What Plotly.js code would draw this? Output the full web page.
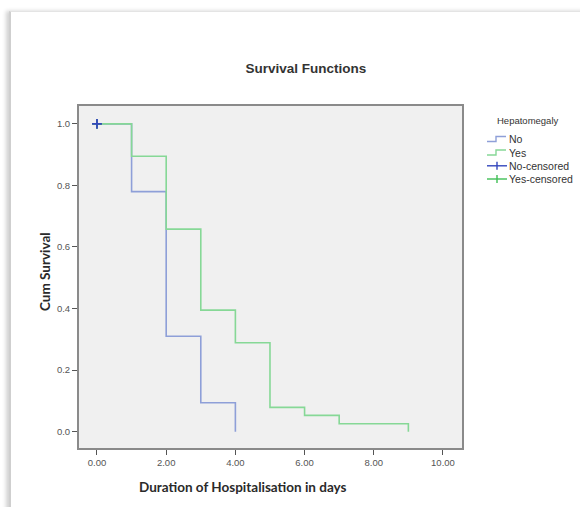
<!DOCTYPE html>
<html>
<head>
<meta charset="utf-8">
<script src="https://cdn.plot.ly/plotly-3.0.1.min.js"></script>
<style>
html,body{margin:0;padding:0;background:#fff;}
#wrap{position:relative;width:580px;height:507px;overflow:hidden;}
#frame{position:absolute;left:9px;top:11px;width:600px;height:520px;border-left:2px solid #cfcfcf;border-top:1px solid #e4e4e4;box-shadow:-3px 0 4px rgba(0,0,0,0.18);}
#chart{position:absolute;left:0;top:0;width:580px;height:507px;}
</style>
</head>
<body>
<div id="wrap"><div id="frame"></div><div id="chart"></div></div>
<script>
// Data
var noTimes = [0, 1, 2, 3, 4];
var noSurv = [1.0, 0.78, 0.31, 0.094, 0.0];
var yesTimes = [0, 1, 2, 3, 4, 5, 6, 7, 9];
var yesSurv = [1.0, 0.895, 0.658, 0.395, 0.289, 0.079, 0.053, 0.026, 0.0];
var noCensTimes = [0];
var noCensSurv = [1.0];
var yesCensTimes = [0];
var yesCensSurv = [1.0];
var xTicks = [0, 2, 4, 6, 8, 10];
var yTicks = [0, 0.2, 0.4, 0.6, 0.8, 1.0];
var legendLabels = ['No', 'Yes', 'No-censored', 'Yes-censored'];

var blue = '#8e9fd8', green = '#86d896';
var blueMk = '#3447bd', greenMk = '#3fbf55';

// plot area in pixels
var L = 79, R = 462, T = 106, B = 448, W = 580, H = 507;
function px(x){ return (x - L) / (R - L); }
function py(y){ return (B - y) / (B - T); }

var traces = [
  {x: noTimes, y: noSurv, mode: 'lines', line: {shape: 'hv', color: blue, width: 1.6}, name: legendLabels[0], showlegend: false},
  {x: yesTimes, y: yesSurv, mode: 'lines', line: {shape: 'hv', color: green, width: 1.6}, name: legendLabels[1], showlegend: false},
  {x: yesCensTimes, y: yesCensSurv, mode: 'markers', marker: {symbol: 'cross-thin', size: 7, line: {color: greenMk, width: 1.8}}, name: legendLabels[3], showlegend: false},
  {x: noCensTimes, y: noCensSurv, mode: 'markers', marker: {symbol: 'cross-thin', size: 7, line: {color: blueMk, width: 1.8}}, name: legendLabels[2], showlegend: false}
];

var shapes = [];
var annotations = [];
var legendColors = [blue, green, blueMk, greenMk];
var rowY = [139, 152.5, 165.8, 179];
for (var i = 0; i < 4; i++) {
  var yy = rowY[i];
  if (i < 2) {
    var path = 'M' + px(487) + ',' + py(yy + 2.5) + ' L' + px(496) + ',' + py(yy + 2.5) + ' L' + px(496) + ',' + py(yy - 2.5) + ' L' + px(506) + ',' + py(yy - 2.5);
    shapes.push({type: 'path', xref: 'paper', yref: 'paper', path: path, line: {color: legendColors[i], width: 1.4}});
  } else {
    shapes.push({type: 'line', xref: 'paper', yref: 'paper', x0: px(487), x1: px(507), y0: py(yy), y1: py(yy), line: {color: legendColors[i], width: 1.4}});
    shapes.push({type: 'line', xref: 'paper', yref: 'paper', x0: px(497), x1: px(497), y0: py(yy - 4), y1: py(yy + 4), line: {color: legendColors[i], width: 1.4}});
  }
  annotations.push({xref: 'paper', yref: 'paper', x: px(506.5), y: py(yy), xanchor: 'left', yanchor: 'middle', showarrow: false,
    text: legendLabels[i], font: {family: 'Liberation Sans, Arial, sans-serif', size: 10.5, color: '#333'}});
}
annotations.push({xref: 'paper', yref: 'paper', x: px(528), y: py(120), xanchor: 'center', yanchor: 'middle', showarrow: false,
  text: 'Hepatomegaly', font: {family: 'Liberation Sans, Arial, sans-serif', size: 9.5, color: '#333'}});
// axis titles
annotations.push({xref: 'paper', yref: 'paper', x: px(243), y: py(487), xanchor: 'center', yanchor: 'middle', showarrow: false,
  text: '<b>Duration of Hospitalisation in days</b>', font: {family: 'Lato, sans-serif', size: 13.5, color: '#2a2a2a'}});
annotations.push({xref: 'paper', yref: 'paper', x: px(45), y: py(272), xanchor: 'center', yanchor: 'middle', showarrow: false, textangle: -90,
  text: '<b>Cum Survival</b>', font: {family: 'Lato, sans-serif', size: 13.5, color: '#2a2a2a'}});

var layout = {
  width: W, height: H,
  margin: {l: L, r: W - R, t: T, b: H - B, pad: 0},
  paper_bgcolor: 'rgba(0,0,0,0)',
  plot_bgcolor: '#f0f0f0',
  showlegend: false,
  title: {text: 'Survival Functions', x: px(281), xanchor: 'center', y: 1 - 68 / H, yanchor: 'middle',
    font: {family: 'Liberation Sans, Arial, sans-serif', size: 13.5, color: '#333', weight: 'bold'}},
  xaxis: {range: [-0.52, 10.55], tickvals: xTicks, tickformat: '.2f', ticks: 'outside', ticklen: 5, tickwidth: 1, tickcolor: '#555',
    showgrid: false, zeroline: false, showline: true, mirror: true, linecolor: '#8a8a8a', linewidth: 2,
    tickfont: {family: 'Liberation Sans, Arial, sans-serif', size: 9.5, color: '#555'}},
  yaxis: {range: [-0.053, 1.058], tickvals: yTicks, tickformat: '.1f', ticks: 'outside', ticklen: 5, tickwidth: 1, tickcolor: '#555',
    showgrid: false, zeroline: false, showline: true, mirror: true, linecolor: '#8a8a8a', linewidth: 2,
    tickfont: {family: 'Liberation Sans, Arial, sans-serif', size: 9.5, color: '#555'}},
  shapes: shapes,
  annotations: annotations
};

Plotly.newPlot('chart', traces, layout, {displayModeBar: false, staticPlot: true});
</script>
</body>
</html>
